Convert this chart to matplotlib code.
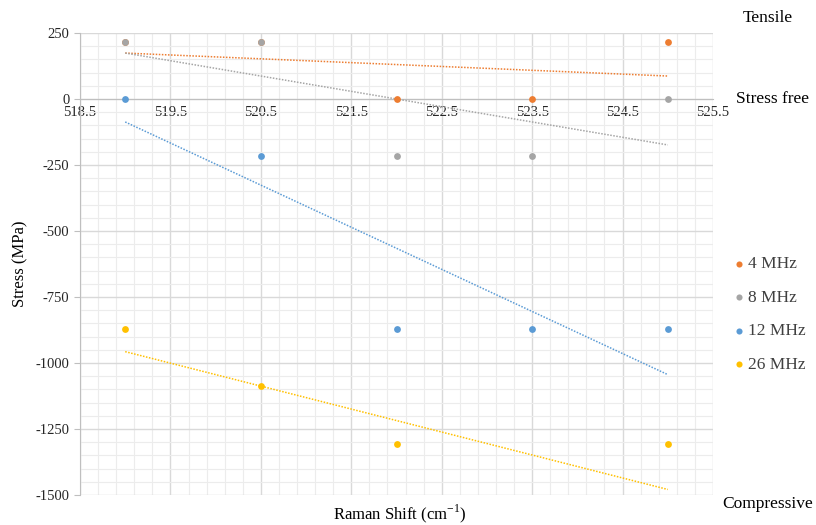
import matplotlib
matplotlib.use("Agg")
import matplotlib.pyplot as plt
from matplotlib.ticker import MultipleLocator
import numpy as np

plt.rcParams['font.family'] = ['Liberation Serif', 'DejaVu Serif']
plt.rcParams['axes.unicode_minus'] = False
plt.rcParams['mathtext.fontset'] = 'custom'
plt.rcParams['mathtext.rm'] = 'Liberation Serif'

# Raman shift positions (cm-1)
shift = [519.0, 520.5, 522.0, 523.5, 525.0]

# stress values (MPa) per frequency
stress_4mhz = [217.5, 217.5, 0.0, 0.0, 217.5]
stress_8mhz = [217.5, 217.5, -217.5, -217.5, 0.0]
stress_12mhz = [0.0, -217.5, -870.0, -870.0, -870.0]
stress_26mhz = [-870.0, -1087.5, -1305.0, -1522.5, -1305.0]

labels = ["4 MHz", "8 MHz", "12 MHz", "26 MHz"]
colors = ["#ED7D31", "#A5A5A5", "#5B9BD5", "#FFC000"]
series = [stress_4mhz, stress_8mhz, stress_12mhz, stress_26mhz]

fig = plt.figure(figsize=(8.16, 5.25), dpi=100)
ax = fig.add_axes([80 / 816, 1 - 495 / 525, 633 / 816, 462 / 525])

x = np.array(shift)
for ys, c, lab in zip(series, colors, labels):
    ax.scatter(x, ys, s=24, color=c, zorder=4, label=lab, linewidths=0)
    # linear trendline like excel
    k, b = np.polyfit(x, ys, 1)
    ax.plot([x[0], x[-1]], [k * x[0] + b, k * x[-1] + b], color=c, lw=1.1,
            ls=(0, (1, 1)), zorder=3)

ax.set_xlim(518.5, 525.5)
ax.set_ylim(-1500, 250)
ax.xaxis.set_major_locator(MultipleLocator(1, offset=0.5))
ax.xaxis.set_minor_locator(MultipleLocator(0.2, offset=0.1))
ax.yaxis.set_major_locator(MultipleLocator(250))
ax.yaxis.set_minor_locator(MultipleLocator(50))
ax.xaxis.set_major_formatter(plt.FuncFormatter(lambda v, p: "%.1f" % v))

ax.grid(which="major", color="#d9d9d9", lw=1.0, zorder=0)
ax.grid(which="minor", color="#ececec", lw=0.8, zorder=0)
ax.set_axisbelow(True)

for s in ["top", "right"]:
    ax.spines[s].set_visible(False)
ax.spines["bottom"].set_position(("data", 0))
ax.spines["bottom"].set_color("#bfbfbf")
ax.spines["left"].set_color("#bfbfbf")
ax.tick_params(axis="x", which="both", length=0, labelsize=10.5, pad=5, labelcolor="#262626")
ax.tick_params(axis="y", which="major", length=4, color="#bfbfbf", labelsize=10.5, labelcolor="#262626")
ax.tick_params(axis="y", which="minor", length=0)

ax.set_ylabel("Stress (MPa)", fontsize=12)
ax.yaxis.set_label_coords(-52 / 633, 0.5)
fig.text(400 / 816, 1 - 514 / 525, r"Raman Shift (cm$^{\mathrm{-1}}$)", fontsize=12,
         ha="center", va="center")

fig.text(768 / 816, 1 - 18 / 525, "Tensile", fontsize=12.5, ha="center", va="center")
fig.text(773 / 816, 1 - 99 / 525, "Stress free", fontsize=12.5, ha="center", va="center")
fig.text(768 / 816, 1 - 504 / 525, "Compressive", fontsize=12.5, ha="center", va="center")

ax.legend(loc="upper left", bbox_to_anchor=(720 / 816, 1 - 244 / 525),
          bbox_transform=fig.transFigure, frameon=False, fontsize=12.5,
          handletextpad=0.1, labelspacing=1.0, markerscale=0.9,
          handlelength=0.8, labelcolor="#404040", borderpad=0.2)

fig.savefig("out.png", dpi=100)
